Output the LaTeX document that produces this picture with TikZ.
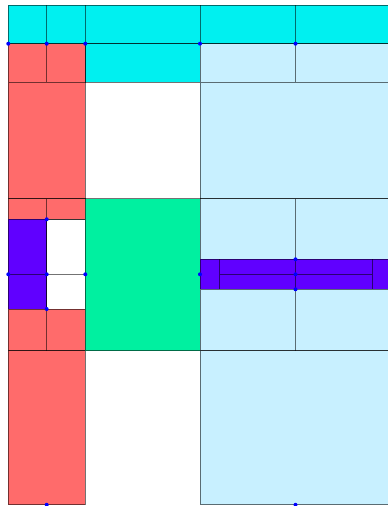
\documentclass[tikz,border=0pt]{standalone}
\definecolor{cyanroom}{HTML}{00F0F0}
\definecolor{redroom}{HTML}{FF6B6B}
\definecolor{paleroom}{HTML}{C8F0FF}
\definecolor{greenroom}{HTML}{00F0A0}
\definecolor{violetroom}{HTML}{6000FF}
\tikzset{
	wall/.style={draw=black, draw opacity=0.55, line width=0.9pt},
	joint/.style={fill=blue},
}
\begin{document}
\begin{tikzpicture}[x=1pt, y=-1pt]
		\useasboundingbox (0,0) rectangle (388,506);
		\clip (0,0) rectangle (388,506);
		\fill[white] (0,0) rectangle (388,506);
		\draw[wall, fill=cyanroom] (8.3,5.3) rectangle (392,43.7);
		\draw[wall] (46.7,5.3) -- (46.7,43.7) (85.3,5.3) -- (85.3,43.7) (200,5.3) -- (200,43.7) (295.5,5.3) -- (295.5,43.7);
		\draw[wall, fill=cyanroom] (85.3,43.7) rectangle (200,82.3);
		\draw[wall, fill=redroom] (8.3,43.7) rectangle (85.3,82.3);
		\draw[wall] (46.7,43.7) -- (46.7,82.3);
		\draw[wall, fill=redroom] (8.3,82.3) rectangle (85.3,198.5);
		\draw[wall, fill=paleroom] (200,43.7) rectangle (392,82.3);
		\draw[wall] (295.5,43.7) -- (295.5,82.3);
		\draw[wall, fill=paleroom] (200,82.3) rectangle (392,198.5);
		\draw[wall, fill=redroom] (8.3,198.5) rectangle (85.3,219.3);
		\draw[wall] (46.7,198.5) -- (46.7,219.3);
		\draw[wall, fill=violetroom] (8.3,219.3) rectangle (46.7,309);
		\draw[wall] (46.7,219.3) rectangle (85.3,309);
		\draw[wall] (8.3,274.3) -- (85.3,274.3);
		\draw[wall, fill=redroom] (8.3,309) rectangle (85.3,350.8);
		\draw[wall] (46.7,309) -- (46.7,350.8);
		\draw[wall, fill=redroom] (8.3,350.8) rectangle (85.3,504.8);
		\draw[wall, fill=greenroom] (85.3,198.5) rectangle (200,350.8);
		\draw[wall, fill=paleroom] (200,198.5) rectangle (392,259.3);
		\draw[wall] (295.5,198.5) -- (295.5,259.3);
		\draw[wall, fill=violetroom] (200,259.3) rectangle (392,289.3);
		\draw[wall] (219.3,259.3) -- (219.3,289.3) (372.3,259.3) -- (372.3,289.3) (295.5,259.3) -- (295.5,289.3) (219.3,274.3) -- (372.3,274.3);
		\draw[wall, fill=paleroom] (200,289.3) rectangle (392,350.8);
		\draw[wall] (295.5,289.3) -- (295.5,350.8);
		\draw[wall, fill=paleroom] (200,350.8) rectangle (392,504.8);
		\foreach \px/\py in {8.3/43.7, 46.7/43.7, 85.3/43.7, 200/43.7, 295.5/43.7, 46.7/219.3, 8.3/274.3, 46.7/274.3, 85.3/274.3, 46.7/309, 200/274.3, 295.5/259.3, 295.5/274.3, 295.5/289.3, 46.7/504.8, 295.5/504.8}
			\fill[joint] (\px,\py) circle (2pt);
	\end{tikzpicture}
\end{document}
